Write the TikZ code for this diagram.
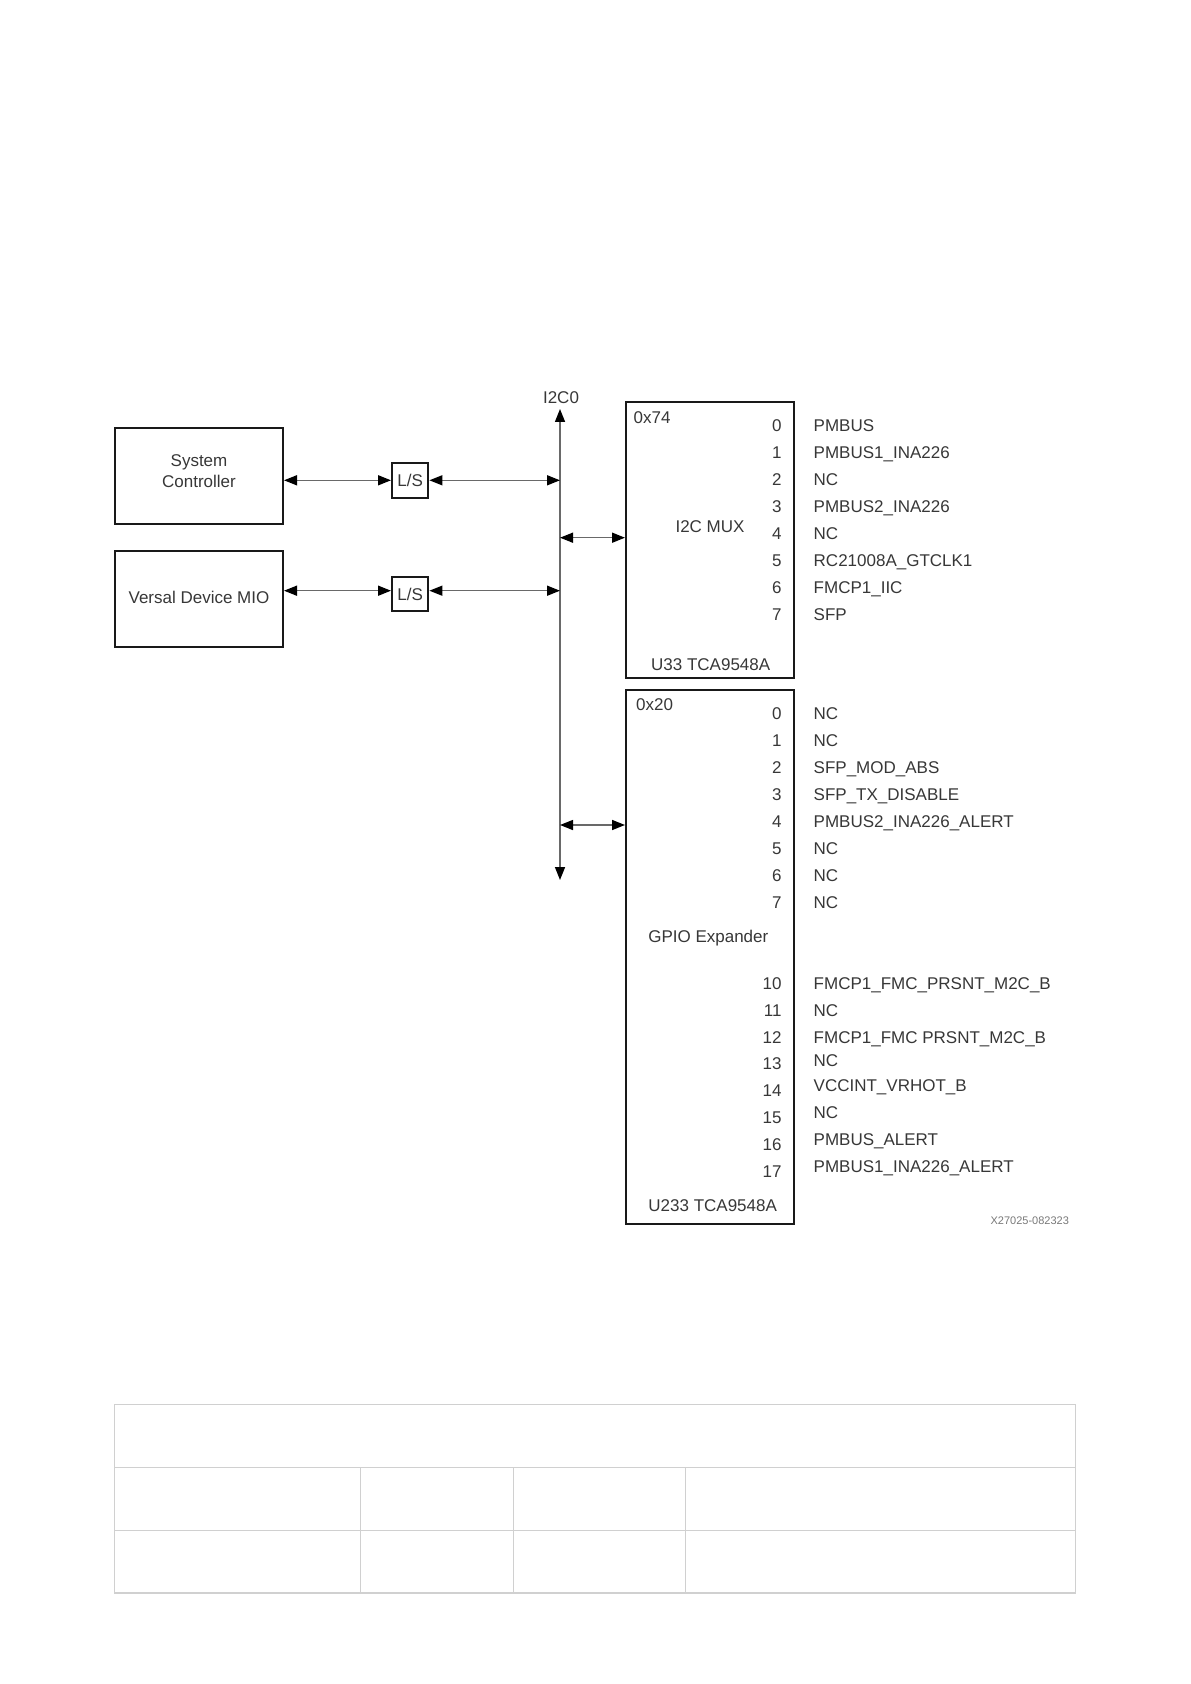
\documentclass[tikz,border=0pt]{standalone}
\usepackage{fontspec}
\setmainfont{Liberation Sans}
\usetikzlibrary{arrows.meta}
\definecolor{txt}{RGB}{55,55,55}
\definecolor{connc}{RGB}{105,105,105}
\definecolor{tblc}{RGB}{208,208,208}
\definecolor{idc}{RGB}{120,120,120}
\begin{document}
\begin{tikzpicture}[x=0.5pt,y=-0.5pt,
  every node/.style={text=txt,font=\fontsize{8.5}{10.85}\selectfont,inner sep=0pt},
  blk/.style={draw=black!90,line width=1pt,minimum width=84pt},
  tip/.tip={Triangle[length=6.5pt,width=5pt,color=black]},
  conn/.style={draw=connc,line width=0.75pt,tip-tip},
  pinno/.style={anchor=east,text height=6.1pt,text depth=0pt},
  sig/.style={anchor=west,text height=6.1pt,text depth=0pt},
  tbl/.style={draw=tblc,line width=0.75pt}]
\useasboundingbox (0,0) rectangle (1190,1684);

% left blocks
\node[blk,minimum height=48.2pt] (sysctrl) at (199,476) {};
\node[align=center] (sysctrlt) at (199,471) {System\\Controller};
\node[blk,minimum height=48pt] (versal) at (199,598.7) {};
\node (versalt) at (199,597.5) {Versal Device MIO};

% level shifters
\node[blk,minimum width=18.2pt,minimum height=17.2pt] (ls1) at (410.2,480.5) {L/S};
\node[blk,minimum width=18.2pt,minimum height=17pt] (ls2) at (410.2,594) {L/S};

% bus
\coordinate (bustop) at (560,409);
\coordinate (busbot) at (560,880);
\node (i2c0) at (561,398) {I2C0};
\draw[conn] (busbot) -- (bustop);
\coordinate (b1) at (560,480.3);
\coordinate (b2) at (560,590.7);
\coordinate (b3) at (560,537.7);
\coordinate (b4) at (560,825);

\draw[conn] (sysctrl.east |- b1) -- (ls1.west |- b1);
\draw[conn] (ls1.east |- b1) -- (b1);
\draw[conn] (versal.east |- b2) -- (ls2.west |- b2);
\draw[conn] (ls2.east |- b2) -- (b2);

% I2C MUX
\node[blk,minimum height=137.5pt] (mux) at (710,540) {};
\node[anchor=west] (mux-addr) at (633.3,418) {0x74};
\node (mux-name) at (710,527) {I2C MUX};
\node (mux-part) at (710.7,665) {U33 TCA9548A};
\draw[conn] (b3) -- (b3 -| mux.west);

\foreach \i/\s in {0/PMBUS,1/PMBUS1\_INA226,2/NC,3/PMBUS2\_INA226,4/NC,5/RC21008A\_GTCLK1,6/FMCP1\_IIC,7/SFP}{
  \node[pinno] (mp\i) at (782,425+27.05*\i) {\i};
  \node[sig] (ms\i) at (813.3,425+27.05*\i) {\s};
}

% GPIO expander
\node[blk,minimum height=267pt] (gpio) at (710,957) {};
\node[anchor=west] (gpio-addr) at (635.7,705) {0x20};
\node (gpio-name) at (708.3,938.3) {GPIO Expander};
\node (gpio-part) at (712.7,1206) {U233 TCA9548A};
\draw[conn] (b4) -- (b4 -| gpio.west);

\foreach \i/\s in {0/NC,1/NC,2/SFP\_MOD\_ABS,3/SFP\_TX\_DISABLE,4/PMBUS2\_INA226\_ALERT,5/NC,6/NC,7/NC}{
  \node[pinno] (gp\i) at (782,713.3+27.05*\i) {\i};
  \node[sig] (gs\i) at (813.3,713.3+27.05*\i) {\s};
}
\foreach \i/\py/\sy/\s in {10/983.3/983.3/FMCP1\_FMC\_PRSNT\_M2C\_B,
  11/1010.7/1010.7/NC,
  12/1037.7/1037.7/FMCP1\_FMC PRSNT\_M2C\_B,
  13/1063.3/1060.7/NC,
  14/1090.7/1085.7/VCCINT\_VRHOT\_B,
  15/1117.7/1112.7/NC,
  16/1144.3/1139.3/PMBUS\_ALERT,
  17/1171.7/1166.7/PMBUS1\_INA226\_ALERT}{
  \node[pinno] (gp\i) at (782,\py) {\i};
  \node[sig] (gs\i) at (813.3,\sy) {\s};
}

\node[anchor=east,text=idc,font=\fontsize{5.5}{6}\selectfont] (figid) at (1069.3,1221) {X27025-082323};

% empty table
\draw[tbl] (114.3,1404.3) rectangle (1075.7,1593);
\draw[tbl] (114.3,1467.3) -- (1075.7,1467.3);
\draw[tbl] (114.3,1530.3) -- (1075.7,1530.3);
\draw[tbl] (360.3,1467.3) -- (360.3,1593);
\draw[tbl] (513.3,1467.3) -- (513.3,1593);
\draw[tbl] (685.7,1467.3) -- (685.7,1593);
\end{tikzpicture}
\end{document}
